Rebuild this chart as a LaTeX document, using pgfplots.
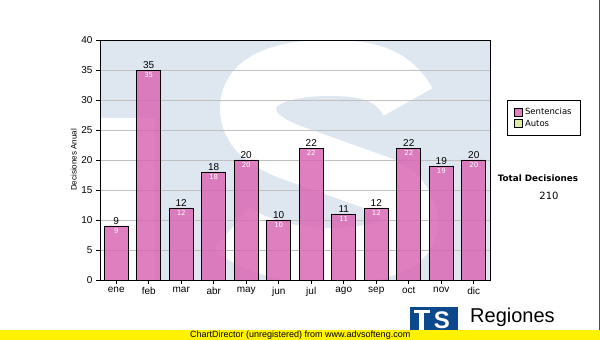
\documentclass[border=0pt]{standalone}
\usepackage{pgfplots}
\pgfplotsset{compat=1.18}
\usepackage{fontspec}
\setmainfont{Liberation Sans}
\newfontfamily\verdana{DejaVu Sans}
\definecolor{barpink}{RGB}{216,96,176}
\definecolor{legpink}{RGB}{224,128,192}
\definecolor{wm}{RGB}{222,231,240}
\definecolor{autosg}{RGB}{220,236,160}
\definecolor{gridg}{RGB}{192,192,192}
\definecolor{logoblue}{RGB}{12,72,140}
\begin{document}
\begin{tikzpicture}[x=1pt,y=1pt]
\useasboundingbox (-100,-60) rectangle (500,280);
\fill[white] (-100,-60) rectangle (500,280);
% watermark
\begin{scope}
\clip (0,0) rectangle (390,240);
\fill[wm] (0,0) rectangle (390,240);
\fill[white] (0,0) rectangle (55,162);
\draw[white, line width=56pt, line cap=butt]
  (308,178) .. controls (292,208) and (262,212) .. (230,212)
  .. controls (182,212) and (148,200) .. (148,172)
  .. controls (148,150) and (165,138) .. (190,128)
  -- (280,96)
  .. controls (298,88) and (310,74) .. (310,56)
  .. controls (310,34) and (272,24) .. (232,24)
  .. controls (192,24) and (152,34) .. (132,52);
\end{scope}
\begin{axis}[
  at={(0,0)}, anchor=south west,
  scale only axis, width=390pt, height=240pt,
  xmin=-0.5, xmax=11.5, ymin=0, ymax=40,
  ytick={0,5,...,40},
  xtick={0,...,11},
  xticklabels={ene,feb,mar,abr,may,jun,jul,ago,sep,oct,nov,dic},
  xtick pos=bottom, ytick pos=left,
  tick align=outside, major tick length=4pt,
  ymajorgrids, grid style={gridg, line width=0.8pt},
  axis line style={black, line width=0.8pt},
  tick style={black, line width=0.6pt},
  ticklabel style={font=\fontsize{10}{12}\selectfont},
  /pgf/number format/assume math mode=true,
  ylabel={Decisiones Anual},
  ylabel style={font=\fontsize{8}{10}\selectfont, at={(axis description cs:-0.067,0.5)}, anchor=center},
  legend style={at={(1.0436,0.75)}, anchor=north west, draw=black, line width=0.8pt,
    font=\verdana\fontsize{8.5}{10}\selectfont, fill=white, inner xsep=7pt, inner ysep=5.5pt,
    row sep=0pt},
  legend cell align=left,
]
\addplot[ybar, bar width=24pt, bar shift=0pt, fill=barpink, fill opacity=0.8, draw=black, line width=0.8pt,
  nodes near coords,
  nodes near coords style={font=\fontsize{10}{12}\selectfont, text=black, text opacity=1, anchor=south, inner sep=1.5pt},
  legend image code/.code={\draw[black, fill=legpink, line width=0.6pt, fill opacity=1] (0pt,-4pt) rectangle (8pt,4pt);}
] coordinates {(0,9) (1,35) (2,12) (3,18) (4,20) (5,10) (6,22) (7,11) (8,12) (9,22) (10,19) (11,20)};
\addlegendentry{Sentencias}
\addlegendimage{legend image code/.code={\draw[black, fill=autosg, line width=0.6pt] (0pt,-4pt) rectangle (8pt,4pt);}}
\addlegendentry{Autos}
\addplot[ybar, bar width=24pt, bar shift=0pt, draw=none, fill=none, forget plot,
  nodes near coords,
  nodes near coords style={font=\verdana\fontsize{7}{8}\selectfont, text=white, anchor=north, inner sep=1pt, yshift=-1.5pt}
] coordinates {(0,9) (1,35) (2,12) (3,18) (4,20) (5,10) (6,22) (7,11) (8,12) (9,22) (10,19) (11,20)};
\end{axis}
% total
\node[font=\verdana\bfseries\fontsize{8.8}{10}\selectfont] at (438,102) {Total Decisiones};
\node[font=\verdana\fontsize{10}{12}\selectfont] at (449,84) {210};
% logo
\fill[logoblue] (310,-53) rectangle (358,-27);
\fill[white] (314,-33) rectangle (330,-30);
\fill[white] (319,-50) rectangle (324,-30);
\node[text=white, inner sep=0pt, font=\fontsize{24}{24}\selectfont\bfseries] at (342,-40) {S};
\node[anchor=base west, inner sep=0pt, font=\fontsize{20}{22}\selectfont] at (370,-42) {Regiones};
\node[anchor=base west, inner sep=0pt, font=\fontsize{8}{9}\selectfont] at (370,-57) {Tribunal Supremo de Justicia};
% yellow bar
\fill[yellow] (-100,-60) rectangle (500,-50);
\node[anchor=west, inner sep=0pt, font=\fontsize{9}{10}\selectfont] at (90,-55.5) {ChartDirector (unregistered) from www.advsofteng.com};
\draw[black!70, line width=0.8pt] (499,-50) -- (499,280);
\end{tikzpicture}
\end{document}
